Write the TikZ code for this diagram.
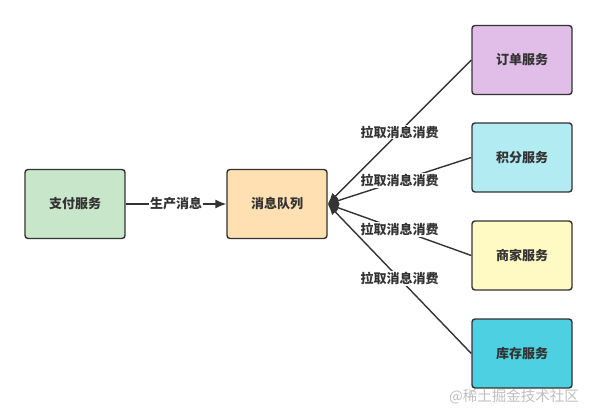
\documentclass[tikz,border=0pt]{standalone}
\usepackage{fontspec}
\setmainfont{Noto Sans CJK SC}
\usetikzlibrary{arrows.meta}

\definecolor{zhifu}{HTML}{C8E6C9}
\definecolor{duilie}{HTML}{FFE0B2}
\definecolor{dingdan}{HTML}{E1BEE7}
\definecolor{jifen}{HTML}{B2EBF2}
\definecolor{shangjia}{HTML}{FFF9C4}
\definecolor{kucun}{HTML}{4DD0E1}
\definecolor{bordo}{HTML}{333333}

\begin{document}
\begin{tikzpicture}[x=1pt, y=-1pt, line width=1.4pt]
	% Stile per i riquadri dei servizi
	\tikzset{servizio/.style={rectangle, rounded corners=3pt, draw=bordo, minimum width=100pt, minimum height=69pt, inner sep=0pt, font=\fontsize{13}{15}\selectfont\bfseries, text=bordo}}
	\tikzset{etichetta/.style={fill=white, inner sep=1pt, font=\fontsize{13}{15}\selectfont\bfseries, text=bordo}}
	\tikzset{freccia/.style={draw=bordo, -{Latex[length=11pt, width=9pt]}}}
	
	\useasboundingbox (0,0) rectangle (596,414);
	
	% Nodi
	\node[servizio, fill=zhifu] (zhifu) at (75, 204) {支付服务};
	\node[servizio, fill=duilie] (duilie) at (277, 204) {消息队列};
	\node[servizio, fill=dingdan] (dingdan) at (522, 60) {订单服务};
	\node[servizio, fill=jifen] (jifen) at (522, 157.5) {积分服务};
	\node[servizio, fill=shangjia] (shangjia) at (522, 255.5) {商家服务};
	\node[servizio, fill=kucun] (kucun) at (522, 353.5) {库存服务};
	
	% Archi
	\draw[freccia] (zhifu) -- node[etichetta] {生产消息} (duilie);
	\draw[freccia] (dingdan.west) -- node[etichetta] {拉取消息消费} (duilie.east);
	\draw[freccia] (jifen.west) -- node[etichetta] {拉取消息消费} (duilie.east);
	\draw[freccia] (shangjia.west) -- node[etichetta] {拉取消息消费} (duilie.east);
	\draw[freccia] (kucun.west) -- node[etichetta] {拉取消息消费} (duilie.east);
	
	% Filigrana
	\node[text=black!25, font=\fontsize{14.5}{16}\selectfont] (filigrana) at (514, 397) {@稀土掘金技术社区};
\end{tikzpicture}
\end{document}
